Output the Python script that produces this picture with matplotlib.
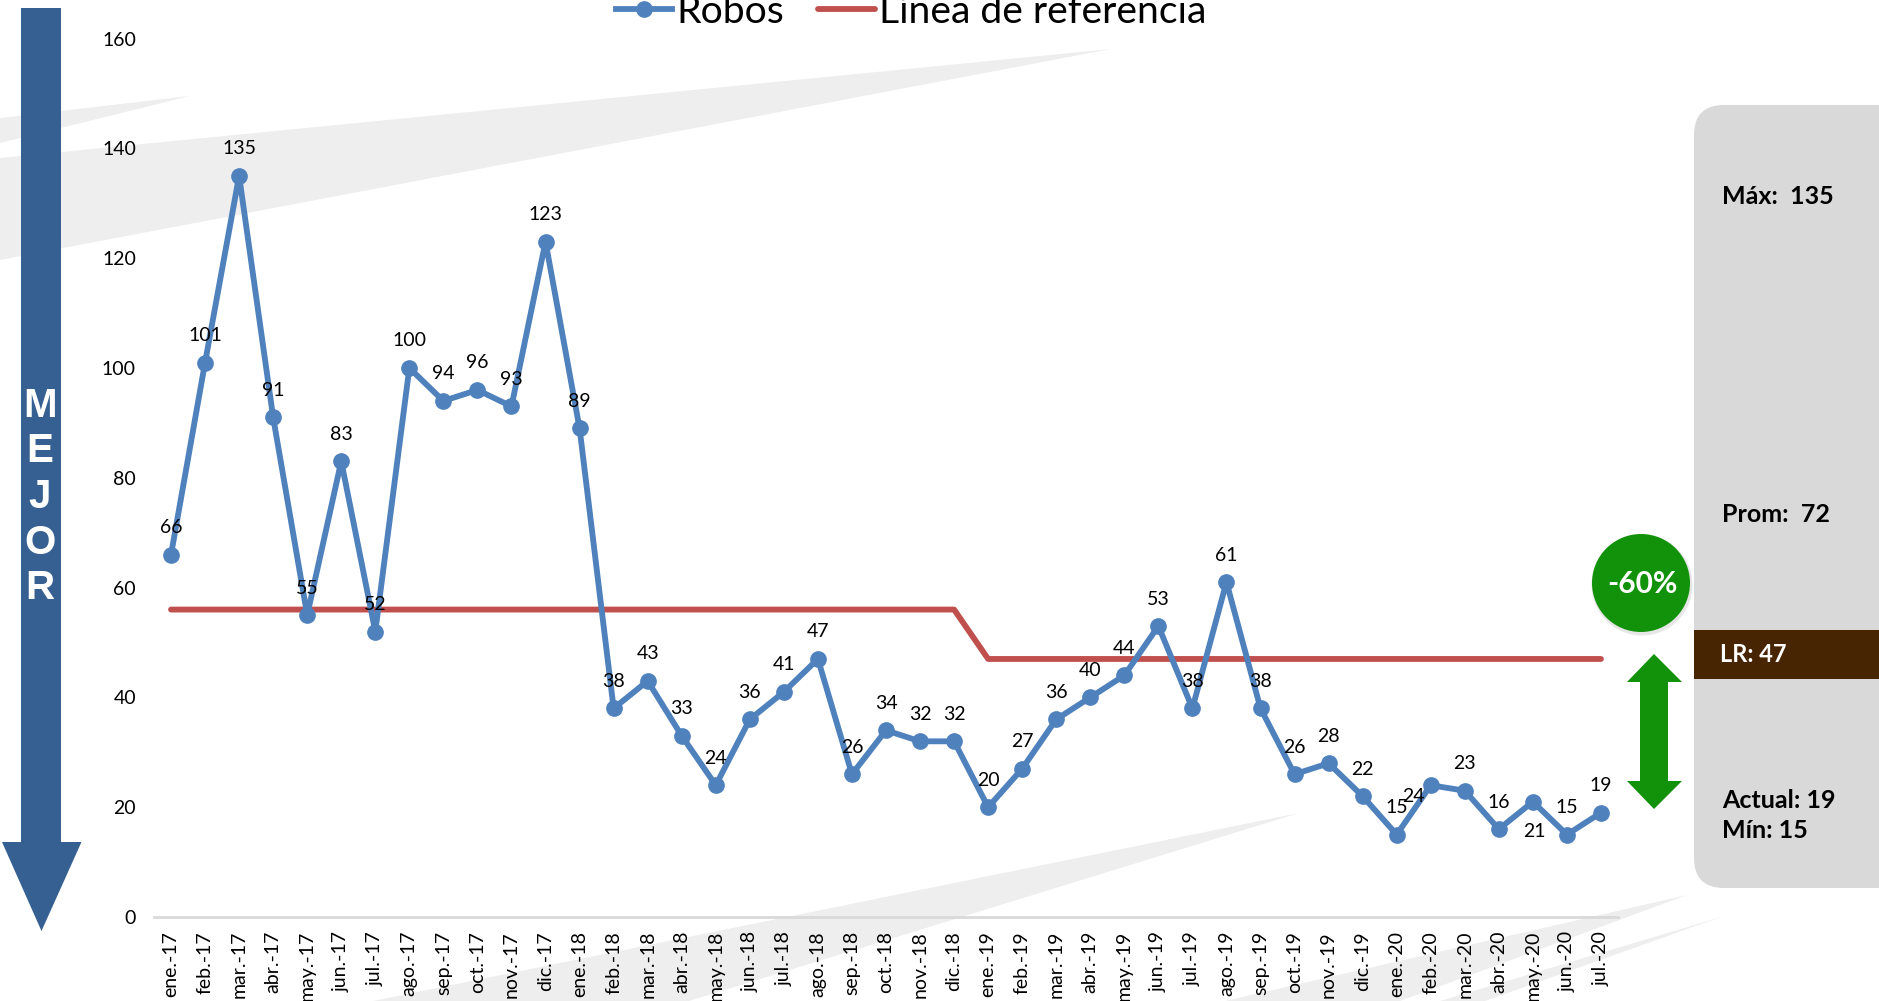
import matplotlib
matplotlib.use("Agg")
import matplotlib.pyplot as plt
from matplotlib.patches import Polygon, Rectangle, Circle, FancyBboxPatch

meses = ["ene.", "feb.", "mar.", "abr.", "may.", "jun.", "jul.", "ago.", "sep.", "oct.", "nov.", "dic."]
categorias = [f"{meses[i % 12]}-{17 + i // 12}" for i in range(43)]
robos = [66, 101, 135, 91, 55, 83, 52, 100, 94, 96, 93, 123, 89, 38, 43, 33, 24, 36, 41, 47, 26, 34,
         32, 32, 20, 27, 36, 40, 44, 53, 38, 61, 38, 26, 28, 22, 15, 24, 23, 16, 21, 15, 19]
referencia = [56] * 24 + [47] * 19
yticks = [0, 20, 40, 60, 80, 100, 120, 140, 160]
panel_textos = [("Máx:  135", 196), ("Prom:  72", 514), ("Actual: 19", 801), ("Mín: 15", 830)]

W, H = 1879, 1001
FONT = "Lato"
plt.rcParams["font.family"] = [FONT, "DejaVu Sans"]
fig = plt.figure(figsize=(W / 100, H / 100), dpi=100, facecolor="white")

def overlay(z):
    a = fig.add_axes([0, 0, 1, 1], zorder=z)
    a.set_xlim(0, W); a.set_ylim(H, 0); a.axis("off")
    return a

bg = overlay(0)
STREAK = "#EEEEEE"
for pts in [
    [(1111, 49), (0, 158), (0, 260)],
    [(190, 96), (0, 118), (0, 143)],
    [(1299, 813), (373, 1001), (689, 1001)],
    [(1687, 895), (1225, 1001), (1400, 1001)],
    [(1721, 917), (1440, 1001), (1485, 1001)],
]:
    bg.add_patch(Polygon(pts, closed=True, fc=STREAK, ec="none"))

ax = fig.add_axes([154 / W, 1 - 917 / H, (1618 - 154) / W, (917 - 38.6) / H], zorder=1)
ax.patch.set_visible(False)
x = list(range(len(robos)))
l1, = ax.plot(x, robos, color="#4F81BD", lw=4.2, marker="o", ms=11, clip_on=False, zorder=3,
              solid_joinstyle="round", label="Robos")
l2, = ax.plot(x, referencia, color="#C0504D", lw=4.2, clip_on=False, zorder=2,
              solid_capstyle="round", label="Línea de referencia")
ax.set_xlim(-0.5, 42.5)
ax.set_ylim(0, 160)
ax.set_yticks(yticks)
ax.set_xticks(x)
ax.set_xticklabels(categorias, rotation=90, fontsize=14)
ax.tick_params(axis="y", length=0, pad=13, labelsize=14)
ax.tick_params(axis="x", length=0, pad=10)
for s in ["top", "right", "left"]:
    ax.spines[s].set_visible(False)
ax.spines["bottom"].set_color("#D9D9D9")
ax.spines["bottom"].set_linewidth(2)

# desplazamiento de etiquetas en píxeles (dx, arriba)
ajustes = {37: (-17, -11), 40: (2, -30)}
for i, v in enumerate(robos):
    dx, up = ajustes.get(i, (0, 27))
    ax.annotate(str(v), (i, v), xytext=(dx * .72, up * .72), textcoords="offset points",
                ha="center", va="center", fontsize=14, zorder=5)

top = overlay(2)
# flecha MEJOR
AZUL = "#366092"
top.add_patch(Polygon([(21, 8), (61, 8), (61, 842), (81.5, 842), (41.5, 931), (2, 842), (21, 842)],
                      closed=True, fc=AZUL, ec="none"))
top.text(40, 497, "M\nE\nJ\nO\nR", color="white", fontsize=29, fontweight="bold", family="Liberation Sans",
         ha="center", va="center", linespacing=1.25, multialignment="center")

# panel derecho
top.add_patch(FancyBboxPatch((1694 + 30, 105 + 30), 300, 783 - 60, boxstyle="round,pad=30,rounding_size=30",
                             fc="#D9D9D9", ec="none", clip_on=True))
top.add_patch(Rectangle((1694, 630), 200, 49, fc="#472503", ec="none"))
top.text(1720, 655, "LR: 47", color="white", fontsize=17, fontweight="bold", va="center", ha="left")
for t, yy in panel_textos:
    top.text(1722, yy, t, color="black", fontsize=18, fontweight="bold", va="center", ha="left")

# círculo e indicador
VERDE = "#12920A"
top.add_patch(Circle((1642, 585), 50.5, fc="#D8D8D8", ec="none", alpha=0.6))
top.add_patch(Circle((1641, 583), 49, fc=VERDE, ec="none"))
top.text(1642, 584, "-60%", color="white", fontsize=21.5, fontweight="bold", ha="center", va="center")
top.add_patch(Polygon([(1654, 654), (1682, 682), (1668, 682), (1668, 781), (1682, 781), (1654, 809),
                       (1627, 781), (1640, 781), (1640, 682), (1627, 682)],
                      closed=True, fc=VERDE, ec="none"))

# leyenda
leg = top.legend([l1, l2], ["Robos", "Línea de referencia"], loc="center", ncol=2,
                 bbox_to_anchor=(911 / W, 1 - 12 / H), bbox_transform=fig.transFigure,
                 frameon=False, fontsize=28.2, handlelength=1.45, handletextpad=0.1, columnspacing=0.87,
                 borderpad=0, borderaxespad=0)
leg.set_zorder(10)

fig.savefig("out.png", dpi=100)
